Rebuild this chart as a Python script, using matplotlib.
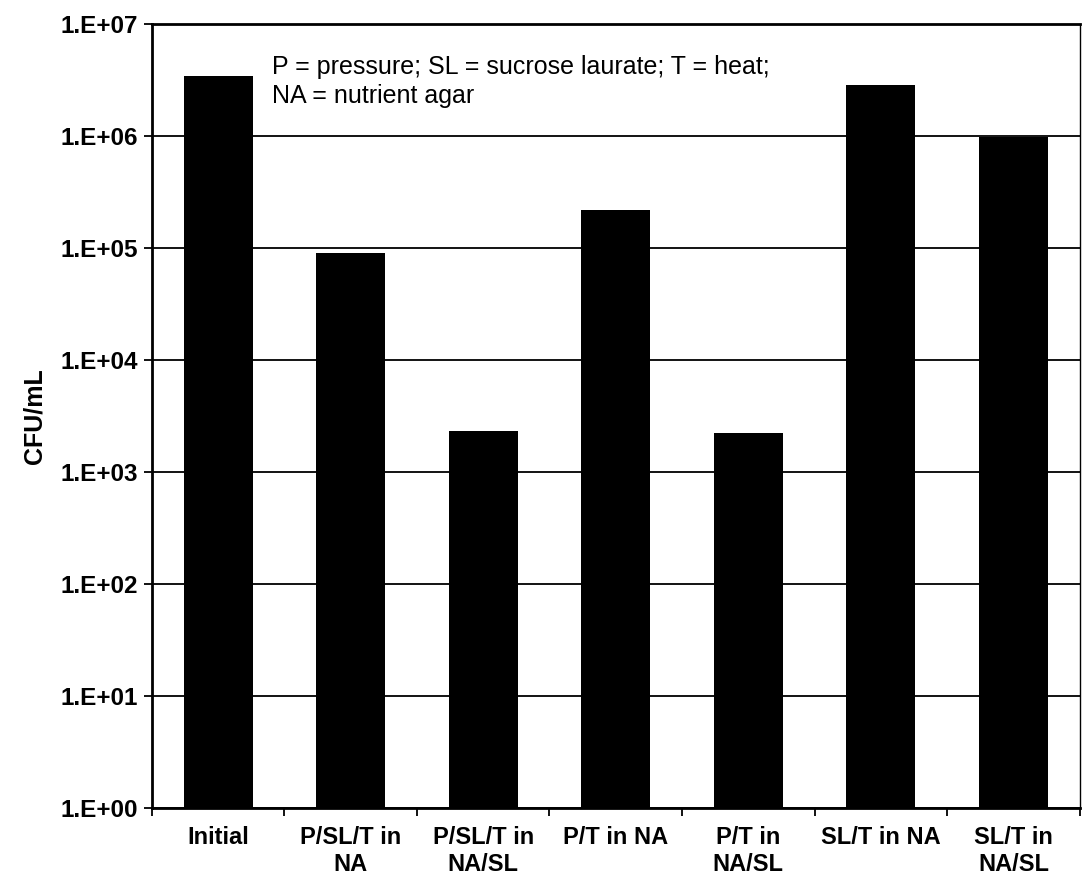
import numpy as np
import matplotlib
matplotlib.use("Agg")
import matplotlib.pyplot as plt
from matplotlib.ticker import FixedLocator, NullFormatter

# Data (CFU/mL, log scale)
categories = ["Initial", "P/SL/T in\nNA", "P/SL/T in\nNA/SL", "P/T in NA",
              "P/T in\nNA/SL", "SL/T in NA", "SL/T in\nNA/SL"]
cfu_per_ml = [3.4e6, 9.0e4, 2.3e3, 2.2e5, 2.25e3, 2.85e6, 9.8e5]
y_ticks = [1e0, 1e1, 1e2, 1e3, 1e4, 1e5, 1e6, 1e7]
y_tick_labels = ["1.E+00", "1.E+01", "1.E+02", "1.E+03",
                 "1.E+04", "1.E+05", "1.E+06", "1.E+07"]
note = "P = pressure; SL = sucrose laurate; T = heat;\nNA = nutrient agar"

plt.rcParams["font.family"] = ["Liberation Sans", "DejaVu Sans"]

fig = plt.figure(figsize=(10.84, 8.88), dpi=100)
ax = fig.add_axes([0.140, 0.090, 0.856, 0.883])

x = np.arange(len(categories))
ax.bar(x, cfu_per_ml, width=0.52, color="black", zorder=3, bottom=1.0)

ax.set_yscale("log")
ax.set_ylim(1e0, 1e7)
ax.set_xlim(-0.5, len(categories) - 0.5)

ax.set_yticks(y_ticks)
ax.set_yticklabels(y_tick_labels, fontsize=17.5, fontweight="bold")
ax.yaxis.set_minor_locator(FixedLocator([]))
ax.yaxis.set_minor_formatter(NullFormatter())
ax.tick_params(axis="y", which="major", direction="out", length=6, width=1.3, pad=4)
ax.grid(axis="y", color="black", lw=1.3, zorder=1)

ax.set_xticks(x)
ax.set_xticklabels(categories, fontsize=17, fontweight="bold", linespacing=1.2)
ax.tick_params(axis="x", which="major", length=0, pad=13)
ax.xaxis.set_minor_locator(FixedLocator(np.arange(-0.5, len(categories), 1.0)))
ax.tick_params(axis="x", which="minor", direction="out", length=6, width=1.3)

ax.set_ylabel("CFU/mL", fontsize=18, fontweight="bold", labelpad=10)

for side in ["left", "bottom", "top"]:
    ax.spines[side].set_linewidth(2.0)
ax.spines["right"].set_linewidth(1.0)

ax.text(0.130, 0.960, note, transform=ax.transAxes, fontsize=18,
        va="top", ha="left", linespacing=1.25)

fig.savefig("out.png", dpi=100)
